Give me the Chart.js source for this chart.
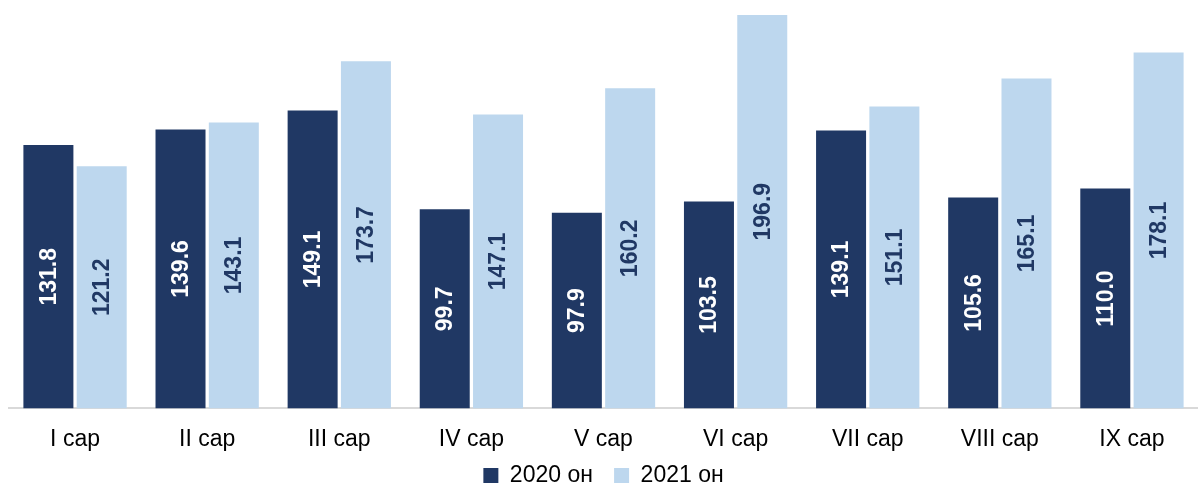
<!DOCTYPE html>
<html>
<head>
<meta charset="utf-8">
<script src="https://cdn.jsdelivr.net/npm/chart.js@4.4.0/dist/chart.umd.min.js"></script>
<style>
  html, body { margin: 0; padding: 0; background: #fff; }
  #wrap { width: 1198px; height: 485px; position: relative; }
</style>
</head>
<body>
<div id="wrap"><canvas id="bar-chart"></canvas></div>
<script>
var months = ["I сар", "II сар", "III сар", "IV сар", "V сар", "VI сар", "VII сар", "VIII сар", "IX сар"];
var values2020 = [131.8, 139.6, 149.1, 99.7, 97.9, 103.5, 139.1, 105.6, 110.0];
var values2021 = [121.2, 143.1, 173.7, 147.1, 160.2, 196.9, 151.1, 165.1, 178.1];

var darkBlue = "#203864";
var lightBlue = "#bdd7ee";
var fontFamily = "'Liberation Sans', Arial, sans-serif";

// value labels, rotated and centred inside each bar
var barLabels = {
  id: "barLabels",
  afterDatasetsDraw: function (chart) {
    var ctx = chart.ctx;
    chart.data.datasets.forEach(function (ds, i) {
      var meta = chart.getDatasetMeta(i);
      meta.data.forEach(function (bar, j) {
        var mid = (bar.y + bar.base) / 2;
        ctx.save();
        ctx.translate(bar.x, mid);
        ctx.rotate(-Math.PI / 2);
        ctx.font = "bold 23px " + fontFamily;
        ctx.fillStyle = ds.labelColor;
        ctx.textAlign = "center";
        ctx.textBaseline = "middle";
        ctx.fillText(ds.data[j].toFixed(1), 0, 1);
        ctx.restore();
      });
    });
  }
};

new Chart(document.getElementById("bar-chart"), {
  type: "bar",
  data: {
    labels: months,
    datasets: [
      {
        label: "2020 он",
        data: values2020,
        backgroundColor: darkBlue,
        labelColor: "#ffffff",
        categoryPercentage: 0.807,
        barPercentage: 0.938
      },
      {
        label: "2021 он",
        data: values2021,
        backgroundColor: lightBlue,
        labelColor: darkBlue,
        categoryPercentage: 0.807,
        barPercentage: 0.938
      }
    ]
  },
  options: {
    responsive: true,
    maintainAspectRatio: false,
    animation: false,
    layout: { padding: { left: 9, right: 0, top: 0, bottom: -12 } },
    scales: {
      y: { display: false, min: 0, max: 204.4 },
      x: {
        grid: { display: false },
        border: { color: "#d9d9d9", width: 2 },
        ticks: { color: "#000", font: { family: fontFamily, size: 23 }, padding: 9 }
      }
    },
    plugins: {
      tooltip: { enabled: false },
      legend: {
        position: "bottom",
        labels: {
          color: "#000",
          font: { family: fontFamily, size: 23 },
          boxWidth: 15,
          boxHeight: 15,
          padding: 2,
          generateLabels: function (chart) {
            var items = Chart.defaults.plugins.legend.labels.generateLabels(chart);
            items.forEach(function (it, i) {
              if (i < items.length - 1) it.text = it.text + "   ";
            });
            return items;
          }
        }
      }
    }
  },
  plugins: [barLabels]
});
</script>
</body>
</html>
